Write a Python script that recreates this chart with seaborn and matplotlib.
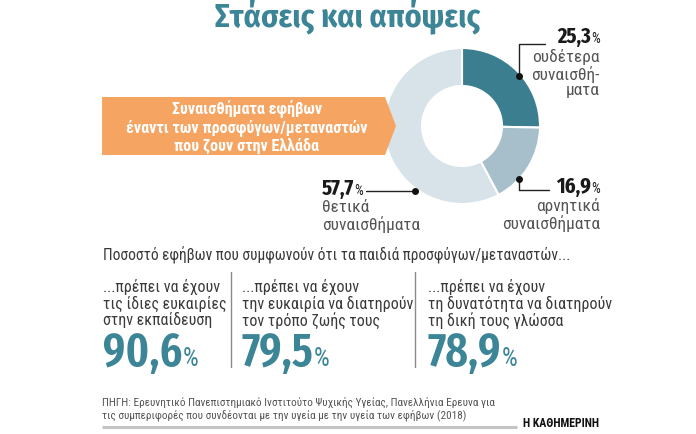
import matplotlib
matplotlib.use("Agg")
import matplotlib.pyplot as plt
from matplotlib.patches import Polygon
import seaborn as sns

# data
share_values = [25.3, 16.9, 57.7]
share_desc = ["ουδέτερα\nσυναισθή-\nματα", "αρνητικά\nσυναισθήματα", "θετικά\nσυναισθήματα"]
agree_values = [90.6, 79.5, 78.9]
agree_labels = [
    "...πρέπει να έχουν\nτις ίδιες ευκαιρίες\nστην εκπαίδευση",
    "...πρέπει να έχουν\nτην ευκαιρία να διατηρούν\nτον τρόπο ζωής τους",
    "...πρέπει να έχουν\nτη δυνατότητα να διατηρούν\nτη δική τους γλώσσα",
]
title = "Στάσεις και απόψεις"
box_text = "Συναισθήματα εφήβων\nέναντι των προσφύγων/μεταναστών\nπου ζουν στην Ελλάδα"
subtitle = "Ποσοστό εφήβων που συμφωνούν ότι τα παιδιά προσφύγων/μεταναστών..."
source = ("ΠΗΓΗ: Ερευνητικό Πανεπιστημιακό Ινστιτούτο Ψυχικής Υγείας, Πανελλήνια Ερευνα για\n"
          "τις συμπεριφορές που συνδέονται με την υγεία με την υγεία των εφήβων (2018)")

sns.set_theme(style="white")
plt.rcParams["font.family"] = ["Roboto Condensed", "DejaVu Sans"]
NUM_FONT = ["Fira Sans Extra Condensed", "Roboto Condensed", "DejaVu Sans"]

TEAL = "#3b8596"
donut_colors = sns.color_palette(["#3a7e8f", "#a6bfca", "#d7e3e9"])
ORANGE = "#f6a462"
GREY = "#555555"

W, H = 696, 435
fig = plt.figure(figsize=(W / 100, H / 100), dpi=100)
ax = fig.add_axes([0, 0, 1, 1])


def Y(y):
    return H - y


def fmt(v):
    return f"{v:.1f}".replace(".", ",")


# donut
cx, cy, r = 462, 127, 78
ax.pie(share_values, colors=donut_colors, startangle=90, counterclock=False,
       center=(cx, Y(cy)), radius=r,
       wedgeprops=dict(width=38, edgecolor="white", linewidth=1.5))
ax.set_xlim(0, W)
ax.set_ylim(0, H)
ax.set_aspect("equal")
ax.axis("off")

renderer = fig.canvas.get_renderer()


def pct_label(x, y, value, big, small, color, ha="left", weight="semibold"):
    """number with a smaller % sign, y = baseline in image pixels"""
    if ha == "left":
        t = ax.text(x, Y(y), fmt(value), fontsize=big, fontweight=weight,
                    color=color, ha="left", va="baseline", family=NUM_FONT)
        bb = t.get_window_extent(renderer)
        p = ax.text(bb.x1, Y(y), "%", fontsize=small, color=color,
                    ha="left", va="baseline", transform=None)
    else:
        p = ax.text(x, Y(y), "%", fontsize=small, color=color, ha="right", va="baseline")
        bb = p.get_window_extent(renderer)
        ax.text(bb.x0, Y(y), fmt(value), fontsize=big, fontweight=weight,
                color=color, ha="right", va="baseline", transform=None, family=NUM_FONT)
    return p.get_window_extent(renderer)


# title
ax.text(348, Y(27), title, fontsize=23, fontweight="bold", color=TEAL,
        ha="center", va="baseline", family=["Fira Sans Condensed", "DejaVu Sans"])

# orange arrow box
ax.add_patch(Polygon([(102, Y(98)), (385, Y(98)), (396, Y(127)), (385, Y(156)), (102, Y(156))],
                     closed=True, facecolor=ORANGE, edgecolor="none", zorder=5))
ax.text(247, Y(127), box_text, fontsize=11.6, fontweight="bold", color="white",
        ha="center", va="center", linespacing=1.1, zorder=6)

# neutral label
pct_label(600, 43, share_values[0], 16, 10, "#1a1a1a", ha="right", weight="bold")
ax.text(600, Y(49), share_desc[0], fontsize=12.5, color=GREY, ha="right", va="top",
        linespacing=1.05)
ax.plot([545, 519, 519], [Y(45), Y(45), Y(77)], color="#222222", lw=1)
ax.plot(519, Y(77), "o", color="#111111", ms=4)

# negative label
pct_label(600, 193, share_values[1], 16, 10, "#1a1a1a", ha="right", weight="bold")
ax.text(600, Y(198), share_desc[1], fontsize=12.5, color=GREY, ha="right", va="top",
        linespacing=1.05)
ax.plot([519, 519, 549], [Y(180), Y(191), Y(191)], color="#222222", lw=1)
ax.plot(519, Y(180), "o", color="#111111", ms=4)

# positive label
pb = pct_label(322, 195, share_values[2], 16, 10, "#1a1a1a", ha="left", weight="bold")
ax.text(322, Y(200), share_desc[2], fontsize=12.5, color=GREY, ha="left", va="top",
        linespacing=1.05)
ax.plot([pb.x1 + 3, 415], [Y(192), Y(192)], color="#222222", lw=1)
ax.plot(415, Y(192), "o", color="#111111", ms=4)

# lower block
ax.text(103, Y(255), subtitle, fontsize=11.2, color="#3a3a3a", ha="left", va="center")

col_x = [103, 242, 428]
for x, lab, v in zip(col_x, agree_labels, agree_values):
    ax.text(x, Y(279), lab, fontsize=11.5, color="#3a3a3a", ha="left", va="top",
            linespacing=1.05)
    pct_label(x, 366, v, 34, 18, TEAL, ha="left")
for sx in [231, 415]:
    ax.plot([sx, sx], [Y(273), Y(368)], color="#8a8a8a", lw=1)

# footer
ax.text(102, Y(397), source, fontsize=8.1, color=GREY, ha="left", va="top", linespacing=1.1)
ax.plot([102, 517], [Y(428), Y(428)], color="#c4c4c4", lw=2.2, solid_capstyle="butt")
ax.text(523, Y(424), "Η ΚΑΘΗΜΕΡΙΝΗ", fontsize=8.5, fontweight="bold", color="#111111",
        ha="left", va="center", family=["Roboto Condensed", "DejaVu Sans"])

fig.savefig("out.png", dpi=100, facecolor="white")
